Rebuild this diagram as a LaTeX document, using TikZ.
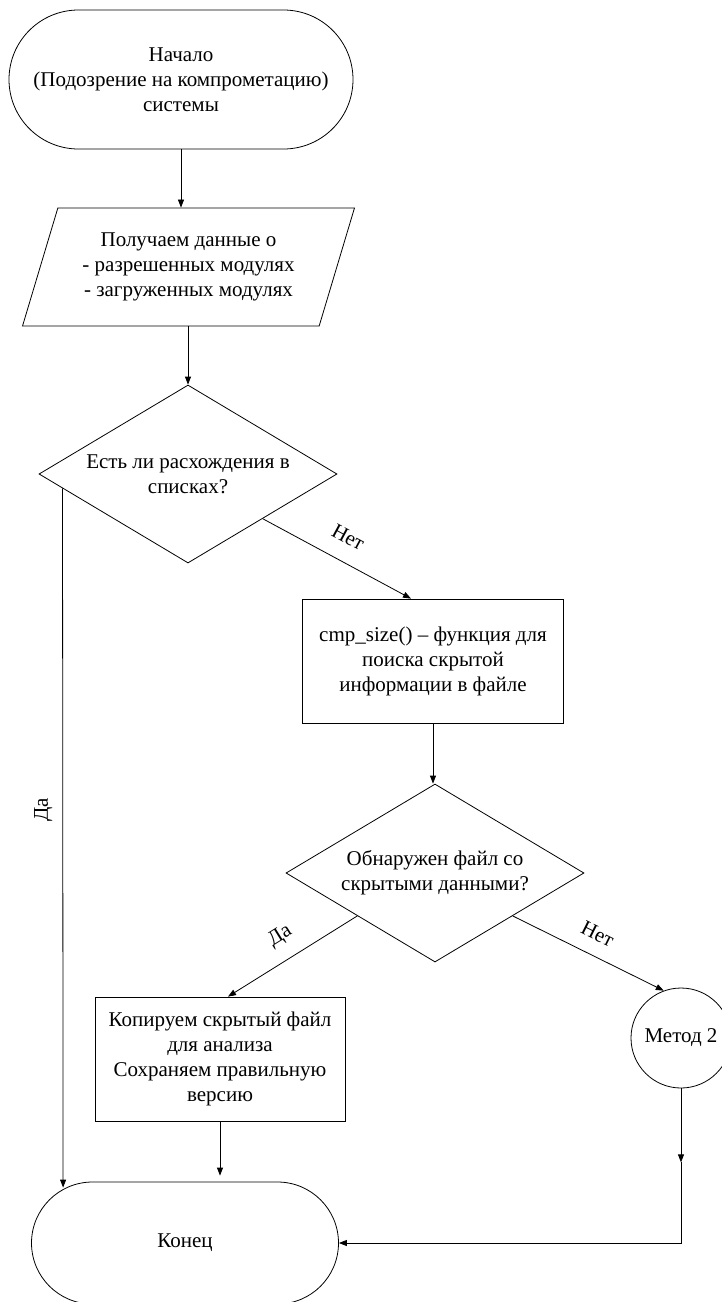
\documentclass[tikz,border=0pt]{standalone}
\usepackage{fontspec}
\setmainfont{Liberation Serif}
\usetikzlibrary{shapes.geometric,arrows.meta,calc}

\begin{document}
\begin{tikzpicture}[x=1pt, y=-1pt, line width=0.8pt,
	every node/.style={font=\fontsize{21}{25}\selectfont, align=center, inner sep=2pt},
	term/.style={draw, rectangle, rounded corners=#1, minimum height={2*#1}},
	io/.style={draw, trapezium, trapezium left angle=68, trapezium right angle=112,
		trapezium stretches=true, minimum width=333pt, minimum height=118pt},
	dec/.style={draw, diamond, aspect=1.67, inner sep=0pt, minimum width=298pt, minimum height=178pt},
	proc/.style={draw, rectangle, minimum height=124pt},
	arr/.style={-{Triangle[length=8pt, width=6pt]}}]
					\useasboundingbox (0,0) rectangle (722,1302);
					
					\node [term=69.5pt, minimum width=344pt] (start) at (181,79.5) {Начало\\(Подозрение на компрометацию)\\системы};
					\node [io] (input) at (188.5,267) {Получаем данные о\\- разрешенных модулях\\- загруженных модулях};
					\node [dec] (d1) at (188,474) {Есть ли расхождения в\\списках?};
					\node [proc, minimum width=261pt] (p1) at (433,661) {cmp\_size() – функция для\\поиска скрытой\\информации в файле};
					\node [dec] (d2) at (435,873) {Обнаружен файл со\\скрытыми данными?};
					\node [proc, minimum width=250pt] (p2) at (220,1059) {Копируем скрытый файл\\для анализа\\Сохраняем правильную\\версию};
					\node [draw, circle, minimum size=100pt, inner sep=0pt] (m2) at (681,1038) {Метод 2};
					\node [term=61pt, minimum width=307pt] (end) at (185,1243) {Конец};
					
					\draw[arr] (start.south) -- (start.south |- input.north);
					\draw[arr] (input.south -| d1.north) -- (d1.north);
					
					\draw[arr] ($(d1.west)!0.16!(d1.south)$) -- ($(end.north west)+(32,6)$)
						node[pos=0.46, rotate=90, anchor=south, inner sep=10pt] {Да};
					\draw[arr] ($(d1.east)!0.5!(d1.south)$) -- ([xshift=-22pt]p1.north)
						node[pos=0.5, sloped, above=15pt] {Нет};
					
					\draw[arr] (p1.south) -- (p1.south |- d2.north);
					
					\draw[arr] ($(d2.west)!0.48!(d2.south)$) -- ([xshift=8pt]p2.north)
						node[pos=0.5, sloped, above=12pt] {Да};
					\draw[arr] ($(d2.east)!0.48!(d2.south)$) -- (m2.110)
						node[pos=0.5, sloped, above=12pt] {Нет};
					
					\draw[arr, shorten >=6pt] (p2.south) -- (p2.south |- end.north);
					\coordinate (m2mid) at ($(m2.south)+(0,74)$);
					\draw[arr] (m2.south) -- (m2mid);
					\draw[arr] (m2mid) |- (end.east);
				\end{tikzpicture}
\end{document}
